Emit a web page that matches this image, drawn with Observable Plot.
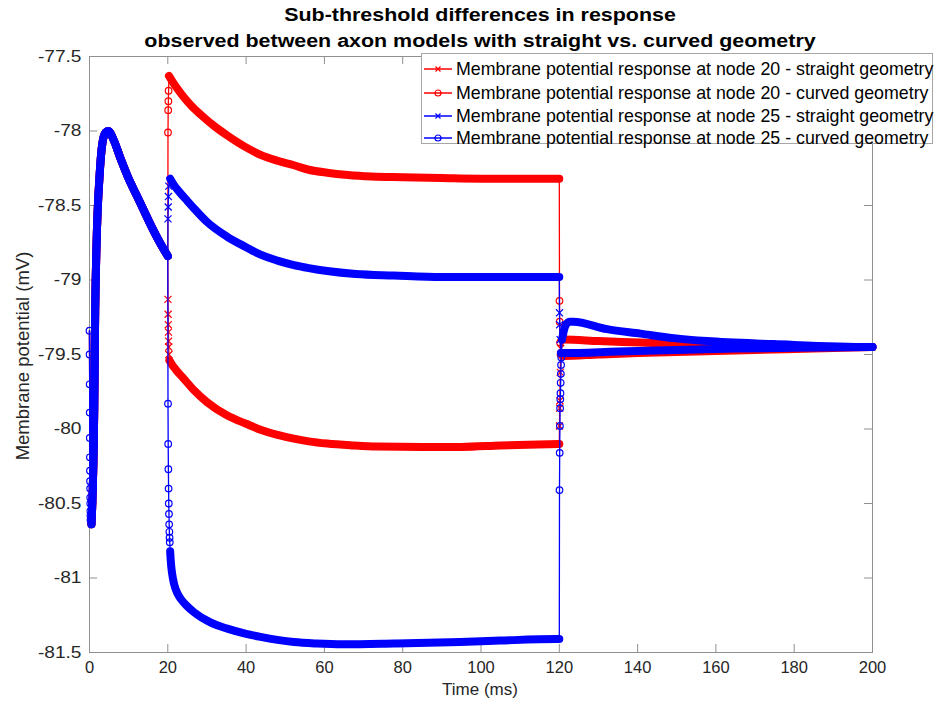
<!DOCTYPE html>
<html><head><meta charset="utf-8">
<script src="https://cdn.jsdelivr.net/npm/d3@7"></script>
<script src="https://cdn.jsdelivr.net/npm/@observablehq/plot@0.6"></script>
<style>
body{margin:0;background:#fff;font-family:"Liberation Sans",Arial,Helvetica,sans-serif;}
#wrap{position:relative;width:935px;height:708px;overflow:hidden;background:#fff;}
#wrap svg.plot{position:absolute;left:0;top:0;}
.title{position:absolute;left:0;width:960px;text-align:center;font-weight:bold;font-size:18px;color:#000;line-height:1;transform:scaleX(1.19);transform-origin:480px 50%;}
.axlabel{position:absolute;font-size:17px;color:#262626;white-space:nowrap;line-height:1;}
#legend{position:absolute;left:421px;top:53px;width:512px;height:91px;border:1px solid #a6a6a6;background:#fff;box-sizing:border-box;}
.lrow{position:absolute;left:0;height:20px;display:flex;align-items:center;}
.lrow span{font-size:17.8px;color:#000;margin-left:2px;white-space:nowrap;}
</style></head><body><div id="wrap"></div><script>
// ---- tick values ----
const xTicks = [0, 20, 40, 60, 80, 100, 120, 140, 160, 180, 200];
const yTicks = [-81.5, -81, -80.5, -80, -79.5, -79, -78.5, -78, -77.5];

// ---- series names ----
const seriesNames = [
  "Membrane potential response at node 20 - straight geometry",
  "Membrane potential response at node 20 - curved geometry",
  "Membrane potential response at node 25 - straight geometry",
  "Membrane potential response at node 25 - curved geometry"
];

// ---- shared response 0-20 ms (all four traces coincide) : [time ms, mV] ----
const preMarks = [[0,-79.34],[0.02,-79.50],[0.04,-79.70],[0.06,-79.89],[0.08,-80.06],[0.10,-80.19],[0.12,-80.28],[0.14,-80.35],[0.16,-80.40],[0.18,-80.46],[0.20,-80.50],[0.22,-80.55],[0.24,-80.58],[0.26,-80.61]];
const preDense = [[0.5,-80.64],[1.2,-79.88],[1.45,-79.21],[1.8,-78.76],[2.55,-78.31],[3.25,-78.09],[4.1,-78.01],[4.8,-78.0],[6,-78.05],[8,-78.19],[10,-78.32],[12,-78.43],[14,-78.54],[16,-78.65],[18,-78.75],[20,-78.84]];

// ---- node 20, straight ----
const s20Marks20 = [[20.04,-79.13],[20.08,-79.23],[20.12,-79.30],[20.16,-79.35],[20.2,-79.41],[20.24,-79.45],[20.28,-79.50]];
const s20Dense20 = [[20.4,-79.54],[21,-79.565],[22,-79.60],[24,-79.66],[26.7,-79.74],[30,-79.82],[35.2,-79.91],[40,-79.965],[43.7,-80.005],[48,-80.04],[52.2,-80.065],[56,-80.083],[60.7,-80.098],[67,-80.11],[73.5,-80.118],[85,-80.12],[95,-80.12],[105,-80.11],[120,-80.10]];
const s20Marks120 = [[120.05,-79.98],[120.1,-79.86],[120.15,-79.81],[120.25,-79.62],[120.35,-79.46]];
const s20Dense120 = [[120.6,-79.40],[121.1,-79.40],[130,-79.41],[140.7,-79.42],[150,-79.43],[166.2,-79.445],[180,-79.45],[200,-79.45]];

// ---- node 20, curved ----
const c20Marks20 = [[20.05,-78.01],[20.1,-77.86],[20.15,-77.80],[20.2,-77.73]];
const c20Dense20 = [[20.3,-77.63],[21,-77.66],[22,-77.70],[24,-77.77],[26,-77.83],[28.4,-77.89],[32,-77.97],[35.2,-78.03],[40,-78.11],[43.7,-78.16],[48,-78.20],[52.2,-78.23],[56,-78.26],[60.7,-78.28],[66,-78.295],[72,-78.305],[80,-78.31],[90,-78.315],[105,-78.32],[120,-78.32]];
const c20Marks120 = [[120.05,-79.14],[120.1,-79.28],[120.2,-79.42]];
const c20Dense120 = [[120.4,-79.50],[121,-79.51],[130,-79.50],[140,-79.49],[155,-79.48],[170,-79.47],[185,-79.46],[200,-79.45]];

// ---- node 25, straight ----
const s25Marks20 = [[20.05,-78.59],[20.1,-78.51],[20.15,-78.44],[20.25,-78.37]];
const s25Dense20 = [[20.6,-78.32],[21.5,-78.36],[23,-78.41],[25,-78.47],[26.7,-78.52],[30,-78.61],[35.2,-78.71],[40,-78.78],[43.7,-78.83],[48,-78.87],[52.2,-78.90],[56,-78.92],[60.7,-78.94],[68,-78.96],[77.7,-78.97],[90,-78.98],[120,-78.98]];
const s25Marks120 = [[120.05,-79.22],[120.1,-79.30],[120.2,-79.40]];
const s25Dense120 = [[120.4,-79.49],[121,-79.49],[135,-79.48],[150,-79.47],[165,-79.46],[180,-79.455],[200,-79.45]];

// ---- node 25, curved ----
const c25Marks20 = [[20.05,-79.83],[20.1,-80.10],[20.15,-80.27],[20.2,-80.40],[20.25,-80.50],[20.3,-80.57],[20.35,-80.64],[20.4,-80.69],[20.45,-80.73],[20.5,-80.76]];
const c25Dense20 = [[20.6,-80.82],[20.8,-80.90],[21.1,-80.97],[21.6,-81.04],[22.4,-81.10],[23.3,-81.14],[25,-81.19],[26.7,-81.23],[31,-81.30],[35.2,-81.34],[40,-81.375],[43.7,-81.395],[48,-81.415],[52.2,-81.43],[58,-81.44],[65,-81.445],[77.7,-81.44],[94.7,-81.43],[105,-81.42],[119.4,-81.41],[120,-81.41]];
const c25Marks120 = [[120.05,-80.41],[120.1,-80.16],[120.15,-79.98],[120.2,-79.86],[120.25,-79.80],[120.3,-79.76],[120.35,-79.69],[120.4,-79.63],[120.45,-79.57],[120.5,-79.52]];
const c25Dense120 = [[120.7,-79.40],[121.5,-79.31],[122.6,-79.28],[123.6,-79.28],[132.2,-79.33],[140.7,-79.36],[149.2,-79.39],[157.7,-79.41],[174.7,-79.43],[199.3,-79.45],[200,-79.45]];

// ---- build series ----
const colors = ["#ff0000", "#ff0000", "#0000ff", "#0000ff"];
const symbols = ["times", "circle", "times", "circle"];
const own = [
  [s20Marks20, s20Dense20, s20Marks120, s20Dense120],
  [c20Marks20, c20Dense20, c20Marks120, c20Dense120],
  [s25Marks20, s25Dense20, s25Marks120, s25Dense120],
  [c25Marks20, c25Dense20, c25Marks120, c25Dense120]
];
const toRows = (arr, seg) => arr.map(([t, v]) => ({t, v, seg}));

const mL = 89, mR = 63, mT = 56, mB = 56, W = 935, H = 708;
const plotW = W - mL - mR, plotH = H - mT - mB;
const axisColor = "#8f8f8f";
const tickLen = 8;

const marks = [
  Plot.ruleX(xTicks.slice(1, -1), {x: d => d, insetTop: plotH - tickLen, stroke: axisColor}),
  Plot.ruleX(xTicks.slice(1, -1), {x: d => d, insetBottom: plotH - tickLen, stroke: axisColor}),
  Plot.ruleY(yTicks.slice(1, -1), {y: d => d, insetRight: plotW - tickLen, stroke: axisColor}),
  Plot.ruleY(yTicks.slice(1, -1), {y: d => d, insetLeft: plotW - tickLen, stroke: axisColor}),
  Plot.frame({stroke: axisColor}),
  Plot.axisX({ticks: xTicks, tickSize: 0, tickPadding: 9, fontSize: 16.5, label: null, tickFormat: d => String(d), fill: "#262626"}),
  Plot.axisY({ticks: yTicks, tickSize: 0, tickPadding: 8, fontSize: 16.5, label: null, tickFormat: d => String(d), fill: "#262626"})
];

own.forEach((segs, i) => {
  const [m20, d20, m120, d120] = segs;
  const full = [...toRows(preMarks, 0), ...toRows(preDense, 0), ...toRows(m20, 1), ...toRows(d20, 1), ...toRows(m120, 2), ...toRows(d120, 2)];
  const dense = [...toRows(preDense, 0), ...toRows(d20, 1), ...toRows(d120, 2)];
  const pts = [...(i === 3 ? toRows(preMarks, 0) : []), ...toRows(m20, 1), ...toRows(m120, 2)];
  marks.push(
    Plot.line(full, {x: "t", y: "v", stroke: colors[i], strokeWidth: 1.3}),
    Plot.line(dense, {x: "t", y: "v", z: "seg", stroke: colors[i], strokeWidth: 8, strokeLinecap: "round", strokeLinejoin: "round", curve: "monotone-x"}),
    Plot.dot(pts, {x: "t", y: "v", symbol: symbols[i], r: 3.3, stroke: colors[i], strokeWidth: 1.2, fill: "none"})
  );
});

const chart = Plot.plot({
  width: W, height: H,
  marginLeft: mL, marginRight: mR, marginTop: mT, marginBottom: mB,
  x: {domain: [0, 200]},
  y: {domain: [-81.5, -77.5]},
  style: {fontFamily: "'Liberation Sans', Arial, Helvetica, sans-serif", fontSize: "16px", background: "#fff", color: "#262626"},
  marks
});
chart.classList.add("plot");
const wrap = document.getElementById("wrap");
wrap.appendChild(chart);

// widen y tick labels slightly (reference glyphs are horizontally stretched)
chart.querySelectorAll('g[aria-label="y-axis tick label"] text').forEach(t => {
  const len = t.getComputedTextLength();
  if (len > 0) { t.setAttribute("textLength", (len * 1.16).toFixed(1)); t.setAttribute("lengthAdjust", "spacingAndGlyphs"); }
});

// ---- title ----
const t1 = document.createElement("div");
t1.className = "title"; t1.style.top = "6px"; t1.textContent = "Sub-threshold differences in response";
const t2 = document.createElement("div");
t2.className = "title"; t2.style.top = "32px"; t2.textContent = "observed between axon models with straight vs. curved geometry";
wrap.appendChild(t1); wrap.appendChild(t2);

// ---- axis labels ----
const xl = document.createElement("div");
xl.className = "axlabel"; xl.textContent = "Time (ms)";
xl.style.left = "0px"; xl.style.width = "960px"; xl.style.textAlign = "center"; xl.style.top = "681px";
wrap.appendChild(xl);
const yl = document.createElement("div");
yl.className = "axlabel"; yl.textContent = "Membrane potential (mV)";
yl.style.fontSize = "18.5px";
yl.style.left = "23px"; yl.style.top = "356px";
yl.style.transform = "translate(-50%,-50%) rotate(-90deg)";
wrap.appendChild(yl);

// ---- legend ----
const leg = document.createElement("div");
leg.id = "legend";
const rowTops = [5, 29, 52, 74];
seriesNames.forEach((name, i) => {
  const row = document.createElement("div");
  row.className = "lrow"; row.style.top = rowTops[i] + "px";
  const c = colors[i];
  const mk = symbols[i] === "circle"
    ? `<circle cx="16" cy="10" r="3" fill="none" stroke="${c}" stroke-width="1.2"/>`
    : `<path d="M13.5,7.5L18.5,12.5M13.5,12.5L18.5,7.5" stroke="${c}" stroke-width="1.2"/>`;
  row.innerHTML = `<svg width="32" height="20"><line x1="2" y1="10" x2="30" y2="10" stroke="${c}" stroke-width="1.5"/>${mk}</svg><span>${name}</span>`;
  leg.appendChild(row);
});
wrap.appendChild(leg);
</script></body></html>
